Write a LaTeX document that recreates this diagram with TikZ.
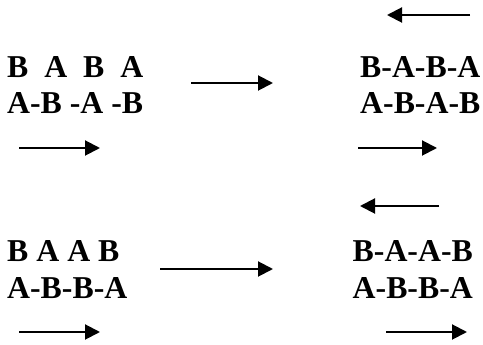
\documentclass[tikz,border=0pt]{standalone}
\usepackage{fontspec}
\setmainfont{Liberation Serif}
\usetikzlibrary{arrows.meta}
\tikzset{
  seq/.style={anchor=base west, inner sep=0pt, font=\bfseries\fontsize{31.8}{36}\selectfont},
  arr/.style={line width=2pt, -{Triangle[length=15pt,width=15pt]}}
}
\begin{document}
\begin{tikzpicture}[x=1pt,y=1pt]
\useasboundingbox (0,0) rectangle (483,345);
% texts
\node[seq] (t1a) at (7,267) {B\ \ A\ \ B\ \ A};
\node[seq] (t1b) at (7,231) {A-B -A -B};
\node[seq] (t2a) at (360,267) {B-A-B-A};
\node[seq] (t2b) at (360,231) {A-B-A-B};
\node[seq] (t3a) at (7,83) {B A A B};
\node[seq] (t3b) at (7,46) {A-B-B-A};
\node[seq] (t4a) at (352.5,83) {B-A-A-B};
\node[seq] (t4b) at (352.5,46) {A-B-B-A};
% arrow ends
\coordinate (a1s) at (19,197);  \coordinate (a1e) at (100,197);
\coordinate (a2s) at (191,262); \coordinate (a2e) at (273,262);
\coordinate (a3s) at (470,330); \coordinate (a3e) at (387,330);
\coordinate (a4s) at (358,197); \coordinate (a4e) at (437,197);
\coordinate (a5s) at (439,139); \coordinate (a5e) at (360,139);
\coordinate (a6s) at (160,76);  \coordinate (a6e) at (273,76);
\coordinate (a7s) at (19,13);   \coordinate (a7e) at (100,13);
\coordinate (a8s) at (386,13);  \coordinate (a8e) at (467,13);
\draw[arr] (a1s) -- (a1e);
\draw[arr] (a2s) -- (a2e);
\draw[arr] (a3s) -- (a3e);
\draw[arr] (a4s) -- (a4e);
\draw[arr] (a5s) -- (a5e);
\draw[arr] (a6s) -- (a6e);
\draw[arr] (a7s) -- (a7e);
\draw[arr] (a8s) -- (a8e);
\end{tikzpicture}
\end{document}
